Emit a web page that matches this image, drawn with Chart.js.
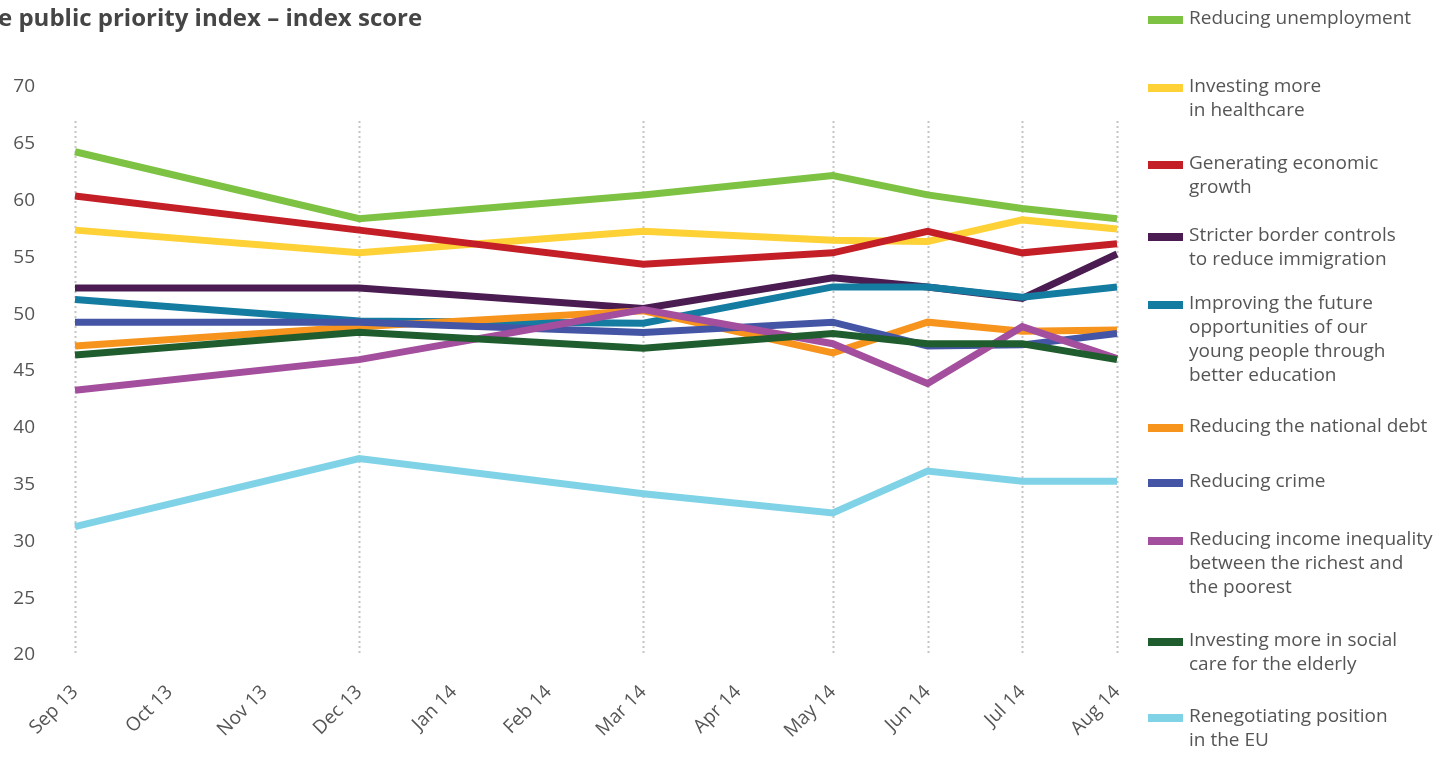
<!DOCTYPE html>
<html lang="en">
<head>
    <meta charset="UTF-8">
    <title>Public priority index</title>
    <script src="https://cdn.jsdelivr.net/npm/chart.js@4.4.1/dist/chart.umd.min.js"></script>
    <style>
        body { margin: 0; background: #fff; font-family: "Open Sans", sans-serif; }
        #wrap { position: relative; width: 1443px; height: 760px; overflow: hidden; }
        #chartBox { position: absolute; left: 0; top: 0; width: 1443px; height: 760px; }
        #title { position: absolute; left: -2px; top: 0px; font-size: 24px; font-weight: 700; color: #454545; white-space: nowrap; }
        .lg { position: absolute; left: 1189px; font-size: 19px; line-height: 24px; color: #555; white-space: pre; }
        .sw { position: absolute; left: 1148px; width: 35px; height: 8px; }
    </style>
</head>
<body>
<div id="wrap">
    <div id="chartBox"><canvas id="myChart"></canvas></div>
    <div id="title">e public priority index – index score</div>
</div>
<script>
    // data (null = no survey that month)
    var months = ['Sep 13', 'Oct 13', 'Nov 13', 'Dec 13', 'Jan 14', 'Feb 14', 'Mar 14', 'Apr 14', 'May 14', 'Jun 14', 'Jul 14', 'Aug 14'];
    var yTicks = [20, 25, 30, 35, 40, 45, 50, 55, 60, 65, 70];

    var unemployment = [64.3, null, null, 58.4, null, null, 60.5, null, 62.2, 60.5, 59.3, 58.4];
    var healthcare   = [57.4, null, null, 55.4, null, null, 57.3, null, 56.5, 56.4, 58.3, 57.5];
    var growth       = [60.4, null, null, 57.4, null, null, 54.4, null, 55.4, 57.3, 55.4, 56.2];
    var border       = [52.3, null, null, 52.3, null, null, 50.5, null, 53.2, 52.4, 51.4, 55.3];
    var education    = [51.3, null, null, 49.4, null, null, 49.2, null, 52.4, 52.4, 51.5, 52.4];
    var debt         = [47.2, null, null, 48.9, null, null, 50.3, null, 46.6, 49.3, 48.5, 48.6];
    var crime        = [49.3, null, null, 49.3, null, null, 48.4, null, 49.3, 47.2, 47.3, 48.3];
    var inequality   = [43.3, null, null, 46.0, null, null, 50.4, null, 47.4, 43.9, 48.9, 46.1];
    var socialCare   = [46.4, null, null, 48.4, null, null, 47.0, null, 48.3, 47.4, 47.4, 46.0];
    var euPosition   = [31.3, null, null, 37.3, null, null, 34.2, null, 32.5, 36.2, 35.3, 35.3];

    var seriesNames = [
        'Reducing unemployment',
        'Investing more\nin healthcare',
        'Generating economic\ngrowth',
        'Stricter border controls\nto reduce immigration',
        'Improving the future\nopportunities of our\nyoung people through\nbetter education',
        'Reducing the national debt',
        'Reducing crime',
        'Reducing income inequality\nbetween the richest and\nthe poorest',
        'Investing more in social\ncare for the elderly',
        'Renegotiating position\nin the EU'
    ];
    var seriesValues = [unemployment, healthcare, growth, border, education, debt, crime, inequality, socialCare, euPosition];

    // styling
    var seriesColors = ['#7dc242', '#fed136', '#c41f26', '#4b1c52', '#137ca0', '#f7941d', '#4555a5', '#a34f9d', '#1f5d2f', '#80d3e7'];
    var legendTops = [5, 73, 150, 222, 290, 413, 468, 526, 627, 703];
    var gridTopValue = 67;

    // legend in html (multi-line labels)
    var wrap = document.getElementById('wrap');
    for (var i = 0; i < seriesNames.length; i++) {
        var sw = document.createElement('div');
        sw.className = 'sw';
        sw.style.top = (legendTops[i] + 11) + 'px';
        sw.style.background = seriesColors[i];
        wrap.appendChild(sw);
        var t = document.createElement('div');
        t.className = 'lg';
        t.style.top = legendTops[i] + 'px';
        t.textContent = seriesNames[i];
        wrap.appendChild(t);
    }

    // dotted verticals only at months with data
    var surveyLines = {
        id: 'surveyLines',
        beforeDatasetsDraw: function (chart) {
            var ctx = chart.ctx, xs = chart.scales.x, ys = chart.scales.y;
            ctx.save();
            ctx.strokeStyle = '#c4c4c4';
            ctx.lineWidth = 2;
            ctx.setLineDash([2, 3]);
            for (var k = 0; k < months.length; k++) {
                if (unemployment[k] === null) continue;
                var x = Math.round(xs.getPixelForValue(k)) + 0.5;
                ctx.beginPath();
                ctx.moveTo(x, ys.getPixelForValue(gridTopValue));
                ctx.lineTo(x, chart.chartArea.bottom);
                ctx.stroke();
            }
            ctx.restore();
        }
    };

    var datasets = seriesValues.map(function (vals, i) {
        return {
            label: seriesNames[i].replace(/\n/g, ' '),
            data: vals,
            borderColor: seriesColors[i],
            backgroundColor: seriesColors[i],
            borderWidth: 7,
            pointRadius: 0,
            tension: 0,
            spanGaps: true,
            borderJoinStyle: 'miter',
            order: seriesValues.length - i   // later series on top
        };
    });

    const ctx = document.getElementById('myChart').getContext('2d');
    const myChart = new Chart(ctx, {
        type: 'line',
        data: { labels: months, datasets: datasets },
        plugins: [surveyLines],
        options: {
            responsive: true,
            maintainAspectRatio: false,
            animation: false,
            layout: { padding: { left: 0, top: 87, right: 326, bottom: 0 } },
            plugins: { legend: { display: false }, tooltip: { enabled: false } },
            scales: {
                x: {
                    grid: { display: false, drawTicks: false },
                    border: { display: false },
                    ticks: {
                        autoSkip: false, minRotation: 45, maxRotation: 45,
                        padding: 26, color: '#555',
                        font: { family: 'Open Sans', size: 19 }
                    },
                    afterFit: function (s) { s.height = 105; }
                },
                y: {
                    min: 20, max: 70,
                    grid: { display: false, drawTicks: false },
                    border: { display: false },
                    afterBuildTicks: function (s) { s.ticks = yTicks.map(function (v) { return { value: v }; }); },
                    ticks: { padding: 40, color: '#555', font: { family: 'Open Sans', size: 19 } },
                    afterFit: function (s) { s.width = 75; }
                }
            }
        }
    });
</script>
</body>
</html>
